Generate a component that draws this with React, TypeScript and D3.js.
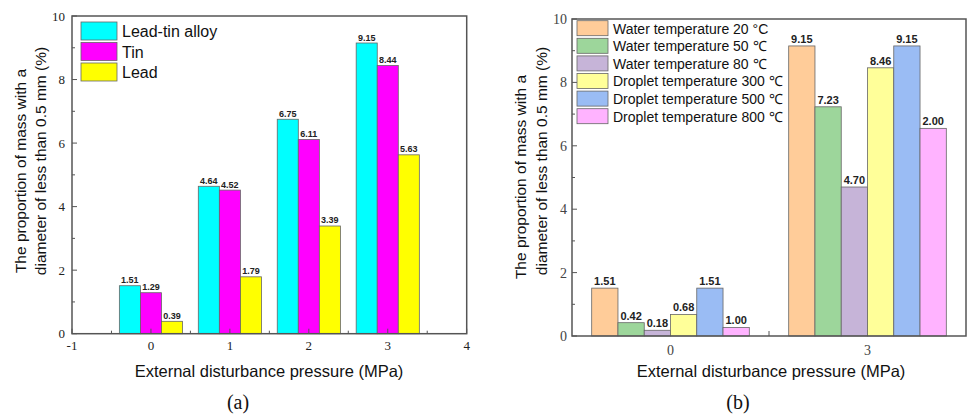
import React from "react";
import { scaleLinear, scaleBand, range } from "d3";

// (a) metals
const pressuresA = [0, 1, 2, 3];
const metals = ["Lead-tin alloy", "Tin", "Lead"];
const metalColors = ["#00FFFF", "#FF00FF", "#FFFF00"];
const leadTin = [1.51, 4.64, 6.75, 9.15];
const tin = [1.29, 4.52, 6.11, 8.44];
const lead = [0.39, 1.79, 3.39, 5.63];
const seriesA = [leadTin, tin, lead];
const xTicksA = [-1, 0, 1, 2, 3, 4];

// (b) temperatures
const pressuresB = ["0", "3"];
const conditions = [
  "Water temperature 20 °C",
  "Water temperature 50 ℃",
  "Water temperature 80 ℃",
  "Droplet temperature 300 ℃",
  "Droplet temperature 500 ℃",
  "Droplet temperature 800 ℃",
];
const condColors = ["#FFCC99", "#9DD69B", "#C6B4D8", "#FFFF99", "#9ABCF4", "#FFB3FF"];
// bar heights as drawn, and the labels printed over them (the last pair differ in the source)
const barValuesB = [
  [1.51, 9.15],
  [0.42, 7.23],
  [0.18, 4.7],
  [0.68, 8.46],
  [1.51, 9.15],
  [0.27, 6.55],
];
const barLabelsB = [
  ["1.51", "9.15"],
  ["0.42", "7.23"],
  ["0.18", "4.70"],
  ["0.68", "8.46"],
  ["1.51", "9.15"],
  ["1.00", "2.00"],
];

const yTicks = [0, 2, 4, 6, 8, 10];
const yMinor = [1, 3, 5, 7, 9];

const SANS = "'Liberation Sans', Arial, sans-serif";
const SERIF = "'Liberation Serif', 'Times New Roman', serif";
const FRAME = "#555";
const EDGE = "#666";

function YTitle({ x1, x2, c1, c2 }: { x1: number; x2: number; c1: number; c2: number }) {
  return (
    <g fontFamily={SANS} fontSize={15.5} fill="#111" textAnchor="middle">
      <text transform={`translate(${x1},${c1}) rotate(-90)`}>The proportion of mass with a</text>
      <text transform={`translate(${x2},${c2}) rotate(-90)`}>diameter of less than 0.5 mm (%)</text>
    </g>
  );
}

function ChartA() {
  const x = scaleLinear().domain([-1, 4]).range([72, 466.7]);
  const y = scaleLinear().domain([0, 10]).range([333.7, 16]);
  const inner = scaleBand<number>().domain(range(metals.length)).range([-0.4, 0.4]);
  const bw = x(inner.bandwidth()) - x(0);

  return (
    <g>
      {seriesA.map((vals, si) =>
        vals.map((v, pi) => {
          const bx = x(pressuresA[pi] + (inner(si) as number));
          return (
            <g key={`${si}-${pi}`}>
              <rect x={bx} y={y(v)} width={bw} height={y(0) - y(v)} fill={metalColors[si]} stroke={EDGE} strokeWidth={0.8} />
              <text x={bx + bw / 2} y={y(v) - 2.5} textAnchor="middle" fontFamily={SANS} fontWeight="bold" fontSize={9} fill="#222">
                {v.toFixed(2)}
              </text>
            </g>
          );
        })
      )}
      <rect x={x(-1)} y={y(10)} width={x(4) - x(-1)} height={y(0) - y(10)} fill="none" stroke={FRAME} strokeWidth={1.5} />
      {yTicks.map((t) => (
        <g key={t}>
          <line x1={x(-1)} x2={x(-1) + 5} y1={y(t)} y2={y(t)} stroke={FRAME} />
          <text x={65} y={y(t)} dy="0.35em" textAnchor="end" fontFamily={SERIF} fontSize={13} fill="#222">{t}</text>
        </g>
      ))}
      {yMinor.map((t) => (
        <line key={t} x1={x(-1)} x2={x(-1) + 3} y1={y(t)} y2={y(t)} stroke={FRAME} />
      ))}
      {xTicksA.map((t) => (
        <g key={t}>
          <line x1={x(t)} x2={x(t)} y1={y(0)} y2={y(0) - 5} stroke={FRAME} />
          <text x={x(t)} y={350} textAnchor="middle" fontFamily={SERIF} fontSize={13} fill="#222">{t}</text>
        </g>
      ))}
      {xTicksA.slice(0, -1).map((t) => (
        <line key={t} x1={x(t + 0.5)} x2={x(t + 0.5)} y1={y(0)} y2={y(0) - 3} stroke={FRAME} />
      ))}
      {metals.map((m, i) => (
        <g key={m}>
          <rect x={81} y={22 + i * 20.5} width={36} height={18} fill={metalColors[i]} stroke={EDGE} strokeWidth={0.8} />
          <text x={122} y={37 + i * 20.5} fontFamily={SANS} fontSize={16} fill="#111">{m}</text>
        </g>
      ))}
      <YTitle x1={26} x2={46} c1={171} c2={161} />
      <text x={269} y={377} textAnchor="middle" fontFamily={SANS} fontSize={16.5} fill="#111">
        External disturbance pressure (MPa)
      </text>
      <text x={238} y={409} textAnchor="middle" fontFamily={SERIF} fontSize={20} fill="#111">(a)</text>
    </g>
  );
}

function ChartB() {
  const x = scaleBand<string>().domain(pressuresB).range([572, 966]);
  const y = scaleLinear().domain([0, 10]).range([336, 19]);
  const inner = scaleBand<number>()
    .domain(range(conditions.length))
    .range([0, x.bandwidth()])
    .paddingOuter(0.75);
  const bw = inner.bandwidth();

  return (
    <g>
      {barValuesB.map((vals, si) =>
        vals.map((v, pi) => {
          const bx = (x(pressuresB[pi]) as number) + (inner(si) as number);
          return (
            <g key={`${si}-${pi}`}>
              <rect x={bx} y={y(v)} width={bw} height={y(0) - y(v)} fill={condColors[si]} stroke={EDGE} strokeWidth={0.8} />
              <text x={bx + bw / 2} y={y(v) - 3} textAnchor="middle" fontFamily={SANS} fontWeight="bold" fontSize={11} fill="#222">
                {barLabelsB[si][pi]}
              </text>
            </g>
          );
        })
      )}
      <rect x={572} y={y(10)} width={966 - 572} height={y(0) - y(10)} fill="none" stroke={FRAME} strokeWidth={1.5} />
      {yTicks.map((t) => (
        <g key={t}>
          <line x1={572} x2={577} y1={y(t)} y2={y(t)} stroke={FRAME} />
          <text x={567} y={y(t)} dy="0.35em" textAnchor="end" fontFamily={SERIF} fontSize={14} fill="#444">{t}</text>
        </g>
      ))}
      {yMinor.map((t) => (
        <line key={t} x1={572} x2={575} y1={y(t)} y2={y(t)} stroke={FRAME} />
      ))}
      <line x1={x("3") as number} x2={x("3") as number} y1={y(0)} y2={y(0) - 5} stroke={FRAME} />
      {pressuresB.map((p) => (
        <text key={p} x={(x(p) as number) + x.bandwidth() / 2} y={355} textAnchor="middle" fontFamily={SERIF} fontSize={14} fill="#444">
          {p}
        </text>
      ))}
      {conditions.map((c, i) => (
        <g key={c}>
          <rect x={577} y={20.7 + i * 17.6} width={31} height={15} fill={condColors[i]} stroke={EDGE} strokeWidth={0.8} />
          <text x={613} y={33.5 + i * 17.6} fontFamily={SANS} fontSize={14} fill="#111">{c}</text>
        </g>
      ))}
      <YTitle x1={526} x2={547} c1={177} c2={161} />
      <text x={771} y={377} textAnchor="middle" fontFamily={SANS} fontSize={16.5} fill="#111">
        External disturbance pressure (MPa)
      </text>
      <text x={738} y={409} textAnchor="middle" fontFamily={SERIF} fontSize={20} fill="#111">(b)</text>
    </g>
  );
}

export default function App() {
  return (
    <svg
      width={972}
      height={417}
      style={{ position: "absolute", left: 0, top: 0, background: "#fff" }}
    >
      <ChartA />
      <ChartB />
    </svg>
  );
}
